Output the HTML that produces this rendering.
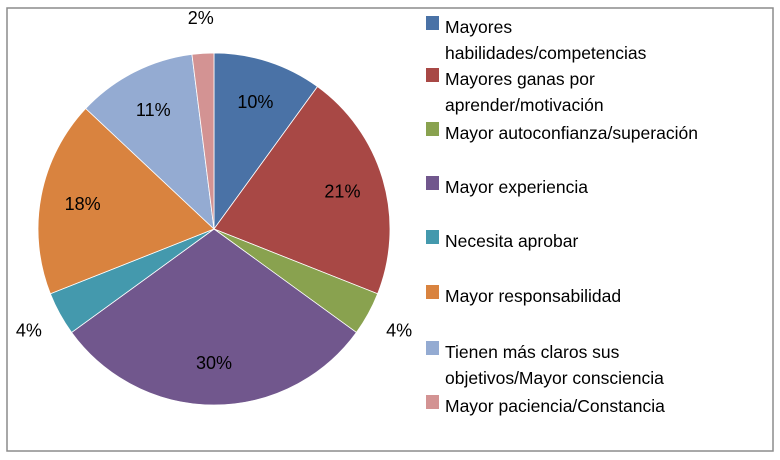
<!DOCTYPE html>
<html><head><meta charset="utf-8"><style>
html,body{margin:0;padding:0;background:#fff;}
svg{display:block;font-family:"Liberation Sans",sans-serif;}
</style></head><body>
<svg id="chart" width="780" height="460" viewBox="0 0 780 460">
<rect x="7" y="8" width="766" height="443" fill="#fff" stroke="#8c8c8c" stroke-width="1.5"/>
<g id="slices"></g>
<g id="labels"></g>
<g id="legend"></g>
</svg>
<script>
const categories = ["Mayores habilidades/competencias","Mayores ganas por aprender/motivación","Mayor autoconfianza/superación","Mayor experiencia","Necesita aprobar","Mayor responsabilidad","Tienen más claros sus objetivos/Mayor consciencia","Mayor paciencia/Constancia"];
const values = [10, 21, 4, 30, 4, 18, 11, 2];
const valueLabels = ["10%","21%","4%","30%","4%","18%","11%","2%"];
const colors = ["#4a72a6","#a84845","#89a24f","#71578d","#4499ad","#d9833f","#94abd2","#d39393"];
const legendLines = [["Mayores","habilidades/competencias"],["Mayores ganas por","aprender/motivación"],["Mayor autoconfianza/superación"],["Mayor experiencia"],["Necesita aprobar"],["Mayor responsabilidad"],["Tienen más claros sus","objetivos/Mayor consciencia"],["Mayor paciencia/Constancia"]];
const legendY = [28, 80, 134, 188, 242, 297, 353, 407];

const NS="http://www.w3.org/2000/svg";
const cx=214, cy=229, R=176;
const total=values.reduce((a,b)=>a+b,0);
function pt(a,r){return [cx+r*Math.sin(a), cy-r*Math.cos(a)];}
const gS=document.getElementById('slices'), gL=document.getElementById('labels'), gLeg=document.getElementById('legend');
let acc=0;
values.forEach((v,i)=>{
  const a0=acc/total*2*Math.PI; acc+=v; const a1=acc/total*2*Math.PI;
  const p0=pt(a0,R), p1=pt(a1,R);
  const large=(a1-a0)>Math.PI?1:0;
  const p=document.createElementNS(NS,'path');
  p.setAttribute('d',`M${cx},${cy} L${p0[0]},${p0[1]} A${R},${R} 0 ${large} 1 ${p1[0]},${p1[1]} Z`);
  p.setAttribute('fill',colors[i]);
  p.setAttribute('stroke','#fff');
  p.setAttribute('stroke-width','0.8');
  
  
  gS.appendChild(p);
  const am=(a0+a1)/2;
  const frac=v/total;
  const rl = frac<0.05 ? R*1.2 : R*0.76;
  const lp=pt(am,rl);
  const t=document.createElementNS(NS,'text');
  t.setAttribute('x',lp[0]); t.setAttribute('y',lp[1]+6);
  t.setAttribute('text-anchor','middle'); t.setAttribute('font-size','18');
  t.setAttribute('fill','#000');
  t.textContent=valueLabels[i];
  
  
  gL.appendChild(t);
});
legendLines.forEach((lines,i)=>{
  const r=document.createElementNS(NS,'rect');
  r.setAttribute('x',426); r.setAttribute('y',legendY[i]-12);
  r.setAttribute('width',13); r.setAttribute('height',14);
  r.setAttribute('fill',colors[i]);
  
  
  gLeg.appendChild(r);
  lines.forEach((ln,j)=>{
    const t=document.createElementNS(NS,'text');
    t.setAttribute('x',445); t.setAttribute('y',legendY[i]+5+j*26);
    t.setAttribute('font-size','17.5'); t.setAttribute('fill','#000');
    t.textContent=ln;
    
    
    gLeg.appendChild(t);
  });
});
</script>
</body></html>
